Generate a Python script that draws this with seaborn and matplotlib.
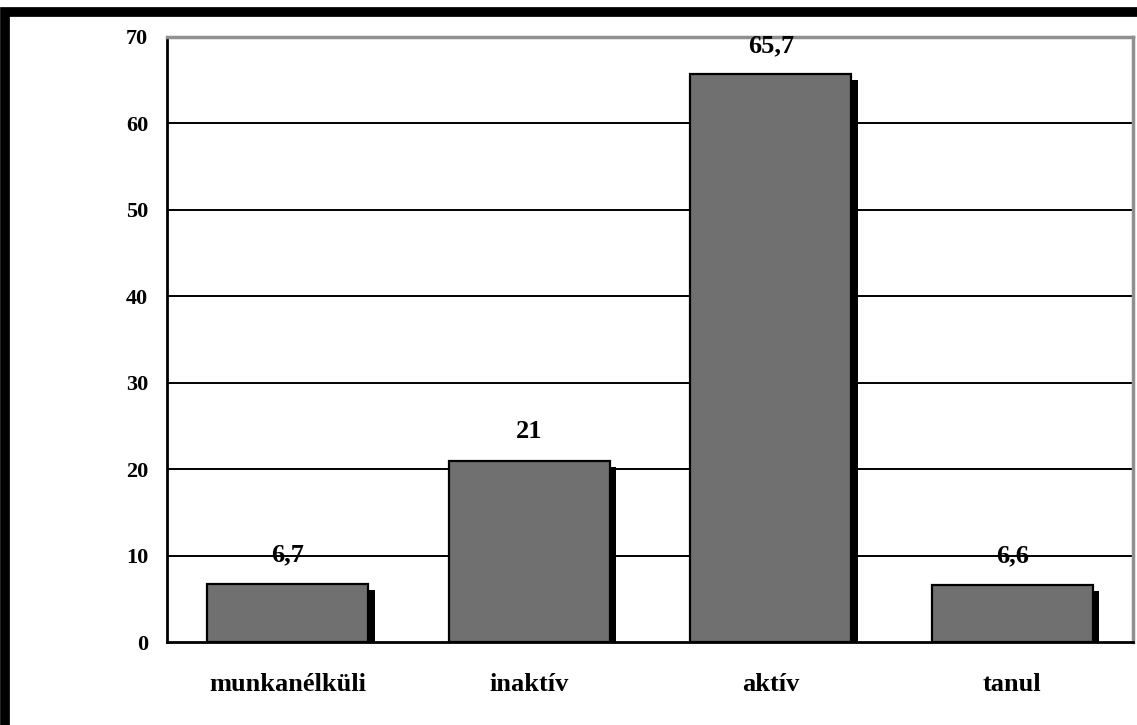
import matplotlib
matplotlib.use("Agg")
import matplotlib.pyplot as plt
import matplotlib.patheffects as pe
import pandas as pd
import seaborn as sns
from matplotlib.patches import Rectangle

categories = ["munkanélküli", "inaktív", "aktív", "tanul"]
values = [6.7, 21, 65.7, 6.6]
value_labels = ["6,7", "21", "65,7", "6,6"]

df = pd.DataFrame({"cat": categories, "val": values})

sns.set_style("white")
plt.rcParams["font.family"] = ["Liberation Serif", "DejaVu Serif"]
plt.rcParams["font.weight"] = "bold"
plt.rcParams["text.color"] = "black"
plt.rcParams["xtick.color"] = "black"
plt.rcParams["ytick.color"] = "black"

fig = plt.figure(figsize=(11.37, 7.25), dpi=100)
ax = fig.add_axes([167 / 1137, 83 / 725, 966 / 1137, 605 / 725])

sns.barplot(data=df, x="cat", y="val", color="#707070", width=0.667,
            saturation=1, edgecolor="black", linewidth=1.6, ax=ax, zorder=3)
for p in ax.patches:
    p.set_path_effects([pe.SimplePatchShadow(offset=(4.5, -4.5), shadow_rgbFace="black", alpha=1), pe.Normal()])

for i, (v, lab) in enumerate(zip(values, value_labels)):
    ax.text(i, v + 2.0, lab, ha="center", va="bottom", fontsize=19, fontweight="bold", color="black")

ax.set_xlim(-0.5, 3.5)
ax.set_ylim(0, 70)
ax.set_yticks(range(0, 71, 10))
for y in range(10, 70, 10):
    ax.axhline(y, color="black", lw=1.4, zorder=1)

ax.set_xticks([-0.5, 0.5, 1.5, 2.5, 3.5], minor=True)
ax.tick_params(axis="x", which="major", length=0, pad=22, labelsize=19, labelcolor="black")
ax.tick_params(axis="x", which="minor", length=8, width=2, direction="out", color="black")
ax.tick_params(axis="y", length=6.5, width=2, direction="out", color="black", labelsize=16, pad=7, labelcolor="black")
for lab in ax.get_xticklabels() + ax.get_yticklabels():
    lab.set_fontweight("bold")

ax.set_xlabel("")
ax.set_ylabel("")
ax.spines["left"].set_color("black")
ax.spines["bottom"].set_color("black")
ax.spines["left"].set_linewidth(2)
ax.spines["bottom"].set_linewidth(2)
for s in ["top", "right"]:
    ax.spines[s].set_color("#909090")
    ax.spines[s].set_linewidth(2.5)
    ax.spines[s].set_visible(True)

# outer chart frame (cut off at right and bottom)
fig.patches.append(Rectangle((5 / 1137, -0.05), 1.1, (713 / 725) + 0.05,
                             transform=fig.transFigure, fill=False,
                             edgecolor="black", linewidth=7, zorder=10))

fig.savefig("out.png", dpi=100)
